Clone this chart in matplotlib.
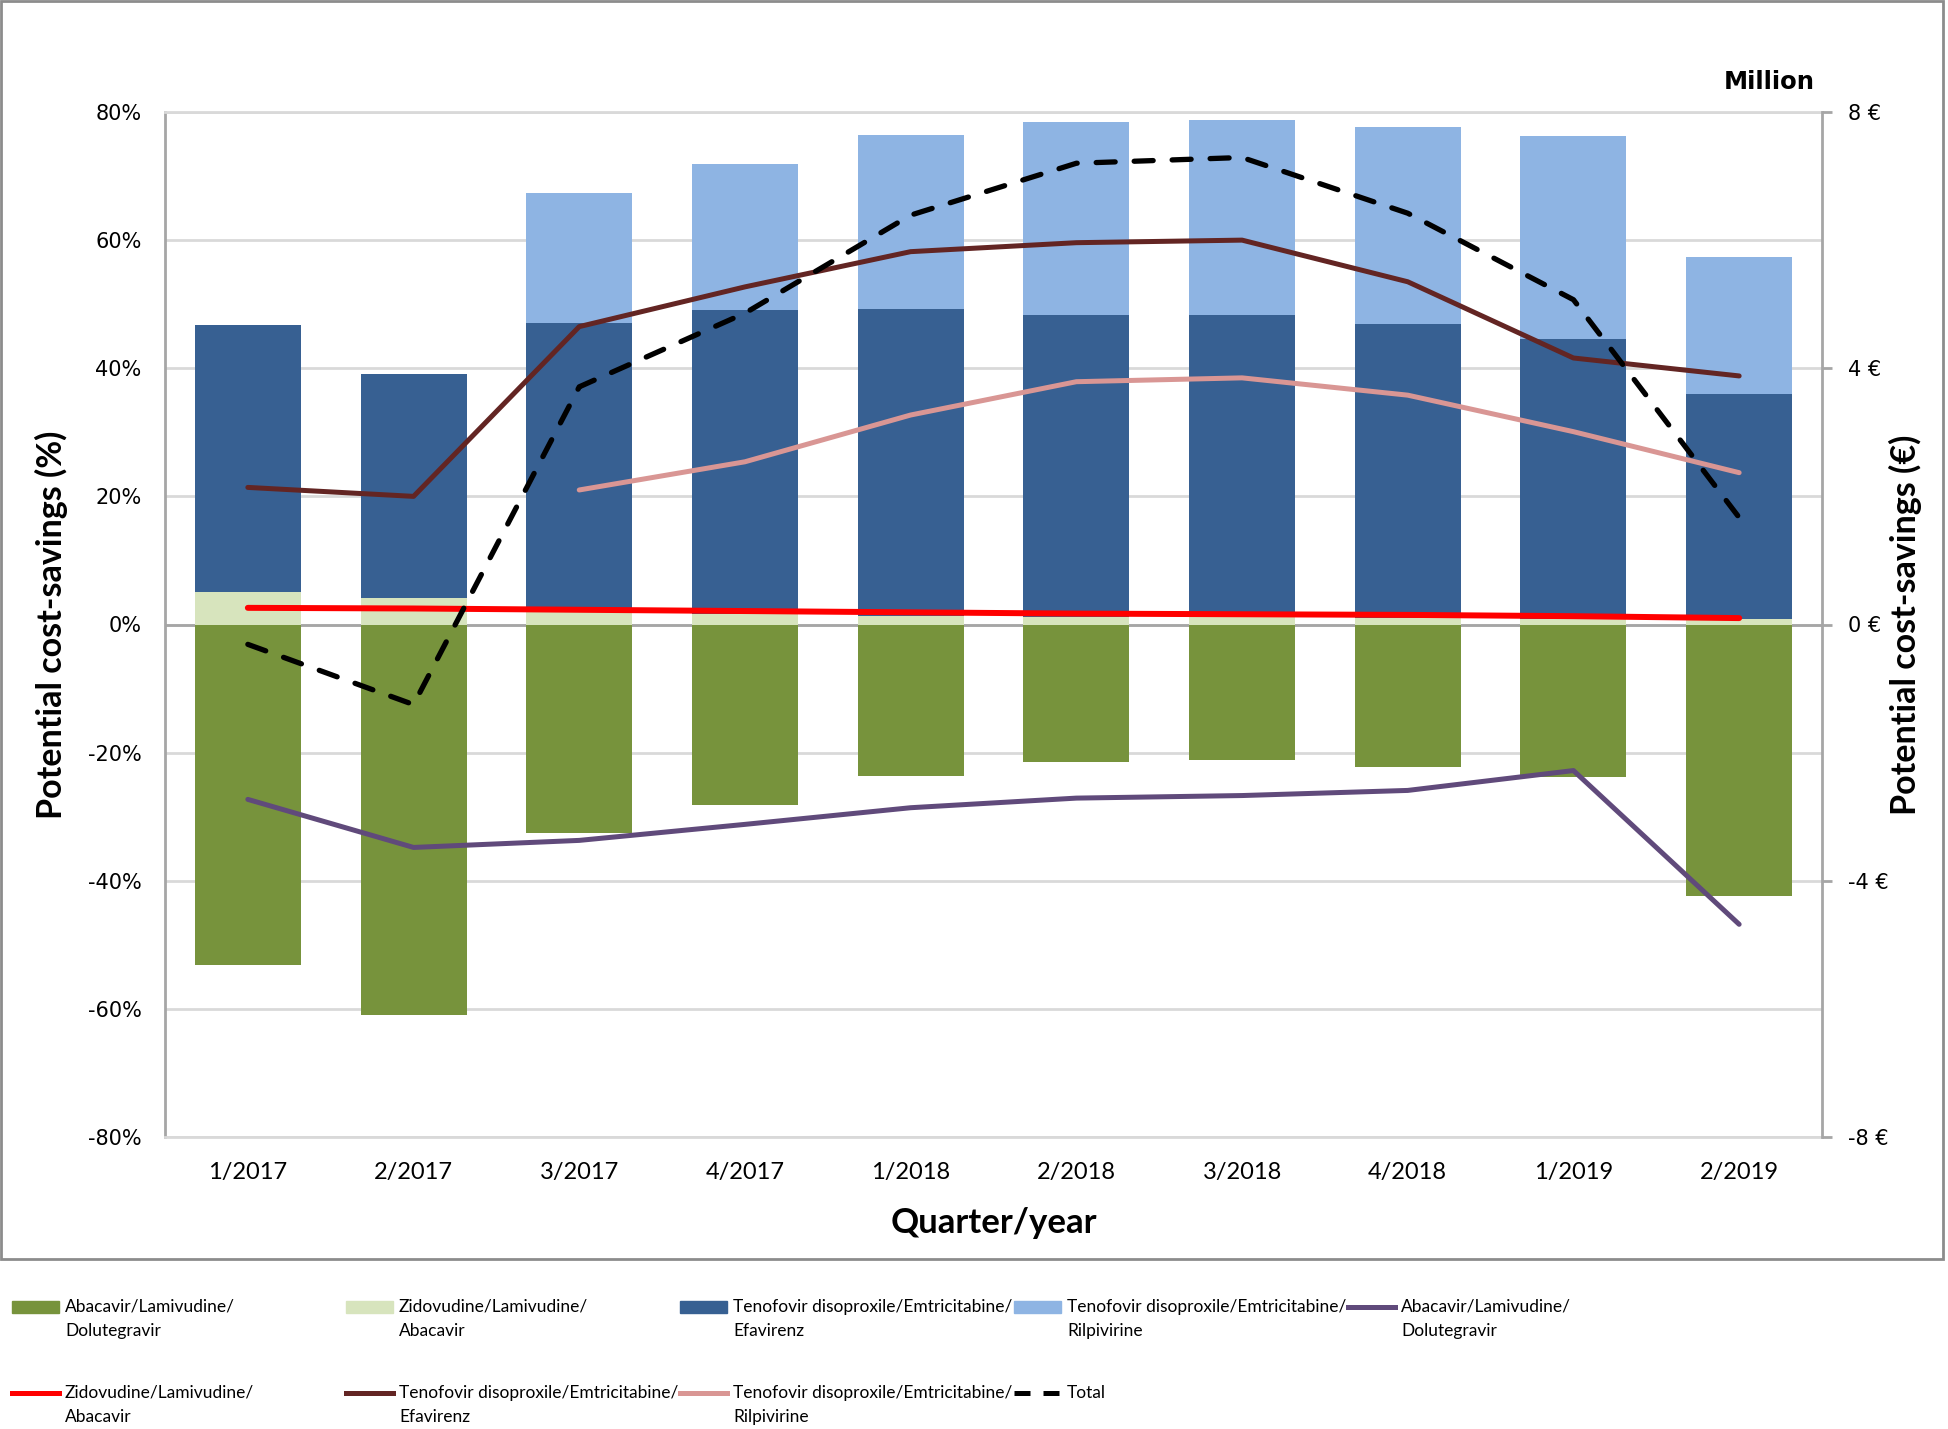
import numpy as np
import matplotlib
matplotlib.use("Agg")
import matplotlib.pyplot as plt
from matplotlib.patches import Rectangle
from matplotlib.lines import Line2D

# quarters on the x axis
quarters = ["1/2017", "2/2017", "3/2017", "4/2017", "1/2018",
            "2/2018", "3/2018", "4/2018", "1/2019", "2/2019"]

# stacked bars, potential cost-savings in %
bar_abc_dtg = [-53.2, -61.0, -32.5, -28.1, -23.6, -21.5, -21.1, -22.3, -23.8, -42.4]
bar_zdv_abc = [5.0, 4.2, 2.0, 1.6, 1.3, 1.2, 1.1, 1.0, 0.9, 0.8]
bar_tdf_efv = [41.7, 34.9, 45.0, 47.5, 48.0, 47.1, 47.2, 45.9, 43.7, 35.2]
bar_tdf_rpv = [0.0, 0.0, 20.4, 22.8, 27.1, 30.1, 30.5, 30.8, 31.6, 21.4]

# lines, potential cost-savings in million EUR
line_abc_dtg = [-2.73, -3.48, -3.37, -3.12, -2.86, -2.71, -2.67, -2.59, -2.28, -4.68]
line_zdv_abc = [0.26, 0.25, 0.23, 0.21, 0.19, 0.17, 0.16, 0.15, 0.13, 0.10]
line_tdf_efv = [2.14, 2.00, 4.65, 5.27, 5.82, 5.96, 6.00, 5.35, 4.16, 3.88]
line_tdf_rpv = [np.nan, np.nan, 2.10, 2.54, 3.27, 3.79, 3.85, 3.58, 3.01, 2.37]
line_total = [-0.31, -1.25, 3.71, 4.86, 6.39, 7.20, 7.29, 6.42, 5.07, 1.67]

left_ticks = [-80, -60, -40, -20, 0, 20, 40, 60, 80]
right_ticks = [-8, -4, 0, 4, 8]

lbl_abc = "Abacavir/Lamivudine/\nDolutegravir"
lbl_zdv = "Zidovudine/Lamivudine/\nAbacavir"
lbl_efv = "Tenofovir disoproxile/Emtricitabine/\nEfavirenz"
lbl_rpv = "Tenofovir disoproxile/Emtricitabine/\nRilpivirine"

C_ABC_BAR = "#77933C"
C_ZDV_BAR = "#D7E4BD"
C_EFV_BAR = "#376092"
C_RPV_BAR = "#8EB4E3"
C_ABC_LINE = "#604A7B"
C_ZDV_LINE = "#FF0000"
C_EFV_LINE = "#632523"
C_RPV_LINE = "#D99694"
GRID = "#D9D9D9"
AXGRAY = "#A6A6A6"

W, H = 1948, 1429
LABEL_FONT = ["Lato", "DejaVu Sans"]


def fx(px):
    return px / W


def fy(py):
    return 1 - py / H


fig = plt.figure(figsize=(W / 100, H / 100), dpi=100)
ax = fig.add_axes([fx(165), fy(1137), fx(1822) - fx(165), fy(112) - fy(1137)])

x = np.arange(len(quarters))
width = 0.64
zdv = np.array(bar_zdv_abc)
efv = np.array(bar_tdf_efv)
rpv = np.array(bar_tdf_rpv)

ax.bar(x, bar_abc_dtg, width, color=C_ABC_BAR, zorder=2)
ax.bar(x, zdv, width, color=C_ZDV_BAR, zorder=2)
ax.bar(x, efv, width, bottom=zdv, color=C_EFV_BAR, zorder=2)
ax.bar(x, rpv, width, bottom=zdv + efv, color=C_RPV_BAR, zorder=2)

ax.set_xlim(-0.5, len(quarters) - 0.5)
ax.set_ylim(-80, 80)
ax.set_yticks(left_ticks)
ax.set_yticklabels([f"{t}%" for t in left_ticks], fontsize=15, family="DejaVu Sans")
ax.set_xticks(x)
ax.set_xticklabels(quarters, fontsize=17, family=LABEL_FONT)
ax.tick_params(axis="y", length=0, pad=17)
ax.tick_params(axis="x", length=0, pad=18)
ax.yaxis.grid(True, color=GRID, linewidth=2, zorder=0)
ax.set_axisbelow(True)
ax.axhline(0, color=AXGRAY, linewidth=2, zorder=1)

ax.spines["left"].set_color(AXGRAY)
ax.spines["left"].set_linewidth(2)
ax.spines["top"].set_color(GRID)
ax.spines["top"].set_linewidth(2)
ax.spines["bottom"].set_color(GRID)
ax.spines["bottom"].set_linewidth(2)
ax.spines["right"].set_visible(False)

ax.set_ylabel("Potential cost-savings (%)", fontsize=24.5, fontweight="bold",
              family=LABEL_FONT, labelpad=14)
ax.set_xlabel("Quarter/year", fontsize=25, fontweight="bold",
              family=LABEL_FONT, labelpad=17)

# secondary axis with the EUR lines
ax2 = ax.twinx()
ax2.plot(x, line_abc_dtg, color=C_ABC_LINE, lw=3.6, solid_capstyle="round")
ax2.plot(x, line_zdv_abc, color=C_ZDV_LINE, lw=4.3, solid_capstyle="round")
ax2.plot(x, line_tdf_efv, color=C_EFV_LINE, lw=3.6, solid_capstyle="round")
ax2.plot(x, line_tdf_rpv, color=C_RPV_LINE, lw=3.6, solid_capstyle="round")
ax2.plot(x, line_total, color="black", lw=3.8, dashes=(3.6, 3.6),
         dash_capstyle="round")
ax2.set_ylim(-8, 8)
ax2.set_yticks(right_ticks)
ax2.set_yticklabels([f"{t} €" for t in right_ticks], fontsize=15, family="DejaVu Sans")
ax2.tick_params(axis="y", length=7, width=2, color=AXGRAY, pad=12)
for s in ["left", "top", "bottom"]:
    ax2.spines[s].set_visible(False)
ax2.spines["right"].set_color(AXGRAY)
ax2.spines["right"].set_linewidth(2)
ax2.set_ylabel("Potential cost-savings (€)", fontsize=24.5, fontweight="bold",
               family=LABEL_FONT, labelpad=0)

fig.text(fx(1769), fy(82), "Million", fontsize=17.5, fontweight="bold",
         family="DejaVu Sans", ha="center", va="center")

# outer frame of the chart
fig.add_artist(Rectangle((fx(1), fy(1259)), fx(1943) - fx(1), fy(1) - fy(1259),
                         transform=fig.transFigure, fill=False,
                         edgecolor="#8C8C8C", linewidth=2))

# legend below the frame, drawn by hand (row-major, 5 columns)
legend_items = [
    ("bar", C_ABC_BAR, lbl_abc),
    ("bar", C_ZDV_BAR, lbl_zdv),
    ("bar", C_EFV_BAR, lbl_efv),
    ("bar", C_RPV_BAR, lbl_rpv),
    ("line", C_ABC_LINE, lbl_abc),
    ("line", C_ZDV_LINE, lbl_zdv),
    ("line", C_EFV_LINE, lbl_efv),
    ("line", C_RPV_LINE, lbl_rpv),
    ("dash", "black", "Total"),
]
for i, (kind, color, label) in enumerate(legend_items):
    col, row = i % 5, i // 5
    x0 = 12 + col * 334
    yc = 1307 + row * 86
    if kind == "bar":
        fig.add_artist(Rectangle((fx(x0), fy(yc + 6)), fx(47), 12 / H,
                                 transform=fig.transFigure, color=color))
    elif kind == "line":
        fig.add_artist(Line2D([fx(x0), fx(x0 + 47)], [fy(yc), fy(yc)],
                              transform=fig.transFigure, color=color, lw=3.6))
    else:
        fig.add_artist(Line2D([fx(x0), fx(x0 + 47)], [fy(yc), fy(yc)],
                              transform=fig.transFigure, color=color, lw=3.6,
                              dashes=(3.2, 2.6)))
    fig.text(fx(x0 + 53), fy(yc - 8), label, fontsize=12.5, family=LABEL_FONT,
             ha="left", va="top", linespacing=1.65)

fig.savefig("out.png", dpi=100)
